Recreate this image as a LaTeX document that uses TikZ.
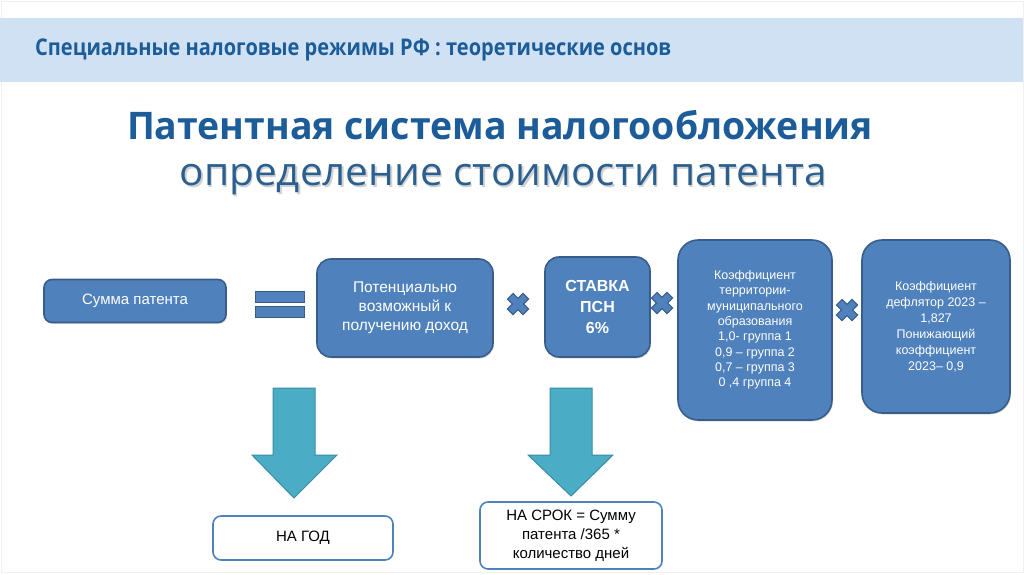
\documentclass[tikz,border=0pt]{standalone}
\usepackage{fontspec}
\setmainfont{Liberation Sans}
\newfontfamily\hdfont[FakeStretch=0.87]{Open Sans}
\newfontfamily\ttlfont[FakeStretch=0.985]{Open Sans}
\newfontfamily\subfont[FakeStretch=1.04]{Open Sans}
\usetikzlibrary{shadows}
\definecolor{bandblue}{HTML}{CFE1F3}
\definecolor{hdblue}{HTML}{1C5C99}
\definecolor{ttlblue}{HTML}{2A5F8F}
\definecolor{boxfill}{HTML}{4F81BD}
\definecolor{boxline}{HTML}{385D8A}
\definecolor{arrfill}{HTML}{4BACC6}
\definecolor{arrline}{HTML}{3A8CA3}
\tikzset{
  bluebox/.style={draw=boxline, line width=1.6pt, fill=boxfill, text=white, align=center,
    inner sep=0pt, drop shadow={shadow xshift=1pt, shadow yshift=-1.5pt, opacity=0.25}},
  whitebox/.style={draw=boxfill, line width=1.6pt, fill=white, text=black, align=center, inner sep=0pt, rounded corners=8pt},
  eqbar/.style={draw=boxline, line width=1.2pt, fill=boxfill, minimum width=49pt, minimum height=11pt, inner sep=0pt},
  crossmark/.style={draw=boxline, line width=1pt, fill=boxfill},
  bigarrow/.style={draw=arrline, line width=1pt, fill=arrfill},
}
\newcommand{\xmark}[2]{%
  \draw[crossmark, shift={(#1,#2)}, rotate=45]
    (-4,-11) -- (4,-11) -- (4,-4) -- (11,-4) -- (11,4) -- (4,4) -- (4,11) -- (-4,11) -- (-4,4) -- (-11,4) -- (-11,-4) -- (-4,-4) -- cycle;}
\begin{document}
\begin{tikzpicture}[x=1pt,y=-1pt]
\useasboundingbox (0,0) rectangle (1024,574);
\fill[white] (0,0) rectangle (1024,574);
\draw[black!6, line width=1pt] (1,1) rectangle (1023,572);
% header band
\fill[bandblue] (0,18) rectangle (1023,82);
\node[anchor=west, text=hdblue, inner sep=0pt] (hdr) at (35,50)
  {\hdfont\bfseries\fontsize{23}{26}\selectfont Специальные налоговые режимы РФ : теоретические основ};
% titles
\node[text=hdblue, inner sep=0pt] (t1) at (500,125)
  {\ttlfont\bfseries\fontsize{38}{42}\selectfont Патентная система налогообложения};
\node[text=black!18, inner sep=0pt] (t2s) at (504.5,181.5)
  {\subfont\fontsize{39}{42}\selectfont определение стоимости патента};
\node[text=ttlblue, inner sep=0pt] (t2) at (503,180)
  {\subfont\fontsize{39}{42}\selectfont определение стоимости патента};
% boxes
\node[bluebox, rounded corners=8pt, minimum width=182pt, minimum height=43pt, font=\fontsize{15}{18}\selectfont]
  (sum) at (135,301) {Сумма патента};
\node[eqbar] (eq1) at (280,297) {};
\node[eqbar] (eq2) at (280,312) {};
\node[bluebox, rounded corners=14pt, minimum width=176pt, minimum height=98pt, font=\fontsize{15.5}{19}\selectfont]
  (inc) at (405,308) {Потенциально\\возможный к\\получению доход};
\node[bluebox, rounded corners=14pt, minimum width=105pt, minimum height=100pt, font=\bfseries\fontsize{16}{21}\selectfont]
  (rate) at (597.5,307) {СТАВКА\\ПСН\\6\%};
\node[bluebox, rounded corners=20pt, minimum width=154pt, minimum height=180pt, font=\fontsize{12.5}{15.3}\selectfont]
  (terr) at (755,330) {Коэффициент\\территории-\\муниципального\\образования\\1,0- группа 1\\0,9 -- группа 2\\0,7 -- группа 3\\0 ,4 группа 4};
\node[bluebox, rounded corners=20pt, minimum width=148pt, minimum height=173pt, font=\fontsize{12.5}{16}\selectfont]
  (defl) at (936,326.5) {Коэффициент\\дефлятор 2023 --\\1,827\\Понижающий\\коэффициент\\2023-- 0,9};
\xmark{518}{304}
\xmark{662}{303}
\xmark{847}{310}
% big arrows
\draw[bigarrow] (273,388) -- (315,388) -- (315,455) -- (337,455) -- (294,498) -- (252,455) -- (273,455) -- cycle;
\draw[bigarrow] (550,388) -- (592,388) -- (592,455) -- (613,455) -- (571,496) -- (528,455) -- (550,455) -- cycle;
% result boxes
\node[whitebox, minimum width=180pt, minimum height=44pt, font=\fontsize{15}{18}\selectfont]
  (year) at (303,538) {НА ГОД};
\node[whitebox, minimum width=182pt, minimum height=67pt, font=\fontsize{15}{19}\selectfont]
  (term) at (571,535.5) {НА СРОК = Сумму\\патента /365 *\\количество дней};
\end{tikzpicture}
\end{document}
